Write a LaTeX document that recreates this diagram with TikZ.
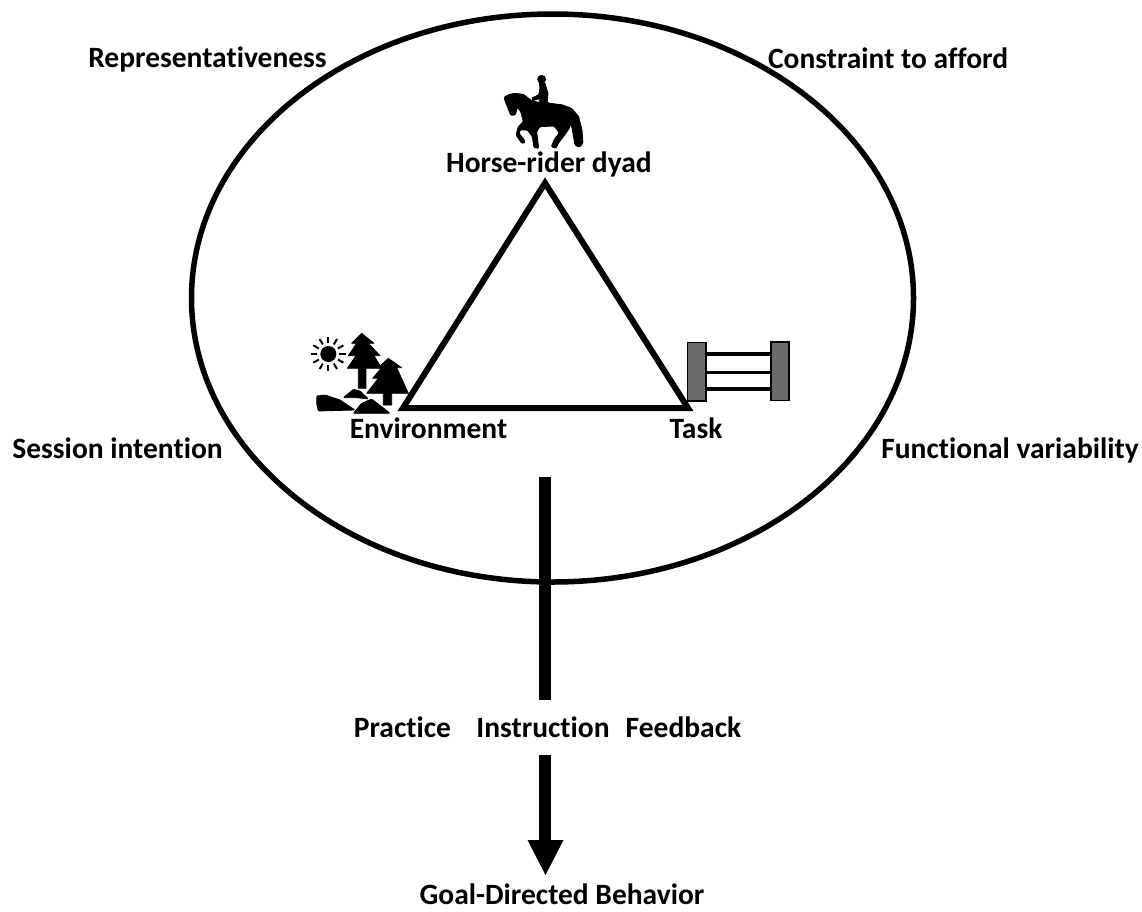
\documentclass[tikz,border=0pt]{standalone}
\usepackage{fontspec}
\setmainfont[Ligatures=NoCommon]{Carlito}
\usetikzlibrary{arrows.meta}
\tikzset{
  lab/.style={font=\fontsize{29.5}{34}\selectfont\bfseries,text=black,inner sep=0pt,anchor=center},
  flow/.style={line width=12pt,draw=black},
  sil/.style={fill=black,draw=black,line width=0.8pt,line join=round},
}
\begin{document}
\begin{tikzpicture}[x=1pt,y=-1pt]
\useasboundingbox (0,0) rectangle (1142,911);
\fill[white] (0,0) rectangle (1142,911);
% ellipse
\draw[line width=5.5pt] (552.5,298) ellipse [x radius=361,y radius=284];
% triangle
\coordinate (apex) at (545,183);
\coordinate (tl) at (403,408);
\coordinate (tr) at (688,408);
\draw[line width=6pt,miter limit=10] (apex) -- (tl) -- (tr) -- cycle;
% connectors
\coordinate (f1) at (545,477);
\coordinate (f2) at (545,700);
\coordinate (f3) at (545,755);
\coordinate (f4) at (545,842);
\draw[flow] (f1) -- (f2);
\draw[flow] (f3) -- (f4);
\fill[black] (527.5,840) -- (563.5,840) -- (545.5,875) -- cycle;
% labels
\node[lab] (rep) at (207.5,59.5) {Representativeness};
\node[lab] (con) at (888,58) {Constraint to afford};
\node[lab] (hor) at (549,164.5) {Horse-rider dyad};
\node[lab] (env) at (428.5,428.5) {Environment};
\node[lab] (tsk) at (696,428.5) {Task};
\node[lab] (ses) at (117.5,448.5) {Session intention};
\node[lab] (fun) at (1010,450.5) {Functional variability};
\node[lab] (pra) at (402.5,727) {Practice};
\node[lab] (ins) at (543,727) {Instruction};
\node[lab] (fee) at (683.5,727) {Feedback};
\node[lab] (goa) at (562,894) {Goal-Directed Behavior};
% horse and rider
\begin{scope}[shift={(490,60)},x=0.3333pt,y=-0.3333pt]
\path[sil,rounded corners=1pt] (42,112) -- (58,103) -- (75,100) -- (100,103) -- (125,122) -- (150,128) -- (180,130) -- (215,134) -- (245,145) -- (266,170) -- (276,210) -- (279,250) -- (268,262) -- (255,255) -- (248,215) -- (243,190) -- (238,205) -- (222,228) -- (205,250) -- (198,265) -- (184,260) -- (192,240) -- (208,218) -- (192,198) -- (150,200) -- (140,215) -- (143,240) -- (146,265) -- (132,263) -- (127,230) -- (112,210) -- (90,210) -- (88,222) -- (100,235) -- (106,248) -- (95,250) -- (78,225) -- (85,200) -- (100,185) -- (92,155) -- (82,142) -- (76,165) -- (62,166) -- (52,140) -- (46,125) -- cycle;
\path[sil] (155,58) circle [radius=12];
\path[sil] (148,70) -- (165,70) -- (174,100) -- (172,125) -- (178,132) -- (148,132) -- (148,116) -- (128,122) -- (127,114) -- (146,104) -- (150,85) -- cycle;
\end{scope}
% environment icon
\begin{scope}[shift={(300,325)},x=0.3333pt,y=-0.3333pt]
\fill[black] (85,87) circle [radius=24];
\foreach \a in {0,30,...,330} {
  \draw[line width=2pt] (85,87) ++(\a:33) -- ++(\a:19);
}
\path[sil] (185,25) -- (222,55) -- (205,55) -- (240,92) -- (222,92) -- (245,130) -- (198,130) -- (198,190) -- (175,190) -- (175,130) -- (142,130) -- (168,92) -- (145,92) -- (170,55) -- (155,55) -- cycle;
\path[sil] (265,100) -- (305,128) -- (290,128) -- (325,205) -- (275,205) -- (275,240) -- (250,240) -- (250,205) -- (200,205) -- (235,160) -- (218,160) -- (245,128) -- (235,128) -- cycle;
\path[sil,rounded corners=1pt] (50,213) -- (75,210) -- (120,225) -- (165,255) -- (55,258) -- (50,235) -- cycle;
\path[sil,rounded corners=1pt] (130,218) -- (160,193) -- (180,198) -- (205,222) -- (170,218) -- cycle;
\path[sil,rounded corners=1pt] (160,265) -- (185,235) -- (215,222) -- (245,245) -- (270,265) -- cycle;
\end{scope}
% jump icon
\begin{scope}[shift={(670,330)},x=0.3333pt,y=-0.3333pt]
\draw[line width=3.5pt] (108,72) -- (303,72);
\draw[line width=3.5pt] (108,127) -- (303,127);
\draw[line width=3.5pt] (108,177) -- (303,177);
\draw[fill=black!58,line width=1.6pt] (53,38) rectangle (108,213);
\draw[fill=black!58,line width=1.6pt] (303,36) rectangle (357,211);
\end{scope}
\end{tikzpicture}
\end{document}
